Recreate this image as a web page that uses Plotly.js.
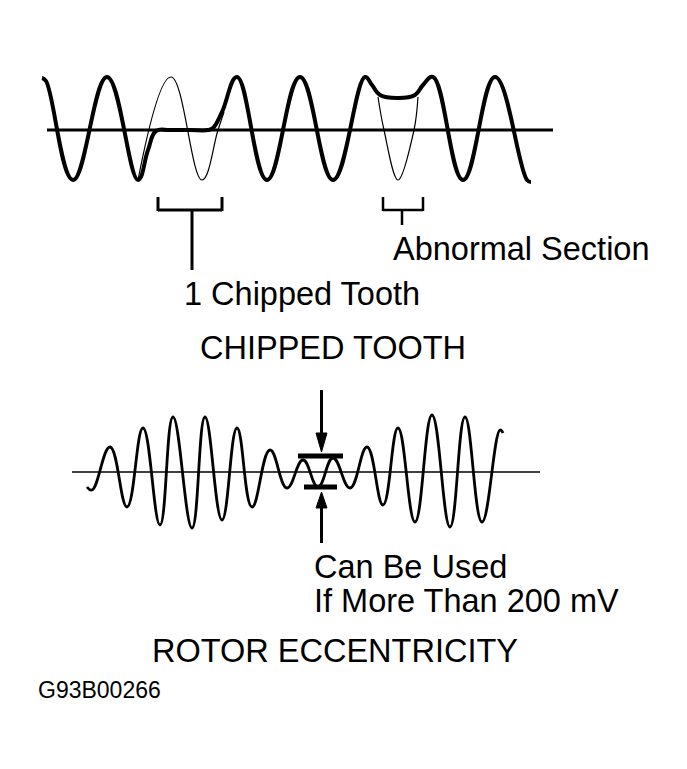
<!DOCTYPE html>
<html>
<head>
<meta charset="utf-8">
<script src="https://cdn.plot.ly/plotly-3.0.1.min.js"></script>
<style>html,body{margin:0;padding:0;background:#fff;}#chart{width:687px;height:769px;}</style>
</head>
<body>
<div id="chart"></div>
<script>
// ---- Data (x, y in picture units; y grows downward) ----
// CHIPPED TOOTH waveform: actual (thick) signal, peaks/troughs and flat parts
const topThickX = [42, 46, 73, 107, 138, 148, 156, 170, 190, 208, 213, 222, 237, 267, 300, 333, 365, 372, 380, 398, 415, 423, 433, 463, 495, 527, 531];
const topThickY = [78, 81, 180, 77, 180, 150, 131, 130, 130, 130, 128, 112, 77, 180, 77, 180, 77, 85, 95, 98, 95, 85, 77, 180, 77, 180, 182];
// normal tooth outline (thin) at the chipped tooth
const topThinAX = [138, 171, 202, 218, 224];
const topThinAY = [180, 77, 180, 130, 112];
// normal tooth outline (thin) at the abnormal section
const topThinBX = [378, 384, 398, 414, 418];
const topThinBY = [97, 130, 180, 130, 97];
// ROTOR ECCENTRICITY waveform (peaks and troughs)
const botX = [87, 92, 110, 127, 143, 160, 173, 192, 205, 222, 237, 252, 270, 287, 303, 318, 333, 350, 367, 383, 398, 415, 432, 450, 465, 482, 500, 503];
const botY = [487, 490, 447, 507, 428, 525, 417, 528, 417, 520, 428, 507, 450, 488, 460, 487, 458, 488, 447, 505, 428, 522, 415, 527, 417, 522, 430, 433];
// axis (zero) lines
const topAxisX = [47, 553];
const topAxisY = [130, 130];
const botAxisX = [72, 540];
const botAxisY = [472, 472];
// texts
const labels = ["Abnormal Section", "1 Chipped Tooth", "CHIPPED TOOTH", "Can Be Used", "If More Than 200 mV", "ROTOR ECCENTRICITY", "G93B00266"];

const FONT = "Liberation Sans, Arial, Helvetica, sans-serif";
const line = (x, y, w, s) => ({x: x, y: y, mode: 'lines', type: 'scatter', hoverinfo: 'skip',
  line: {color: '#000', width: w, shape: 'spline', smoothing: s}});
const straight = (x, y, w) => ({x: x, y: y, mode: 'lines', type: 'scatter', hoverinfo: 'skip',
  line: {color: '#000', width: w}});

const traces = [
  straight(topAxisX, topAxisY, 3),
  straight(botAxisX, botAxisY, 1.5),
  line(topThinAX, topThinAY, 1.2, 1.2),
  line(topThinBX, topThinBY, 1.2, 1),
  line(topThickX, topThickY, 4, 1.2),
  line(botX, botY, 2.8, 1.25)
];

const seg = (x0, y0, x1, y1, w) => ({type: 'line', xref: 'x', yref: 'y', x0: x0, y0: y0, x1: x1, y1: y1,
  line: {color: '#000', width: w}});
const tri = (p) => ({type: 'path', xref: 'x', yref: 'y', path: p, fillcolor: '#000', line: {color: '#000', width: 1}});

const shapes = [
  // 1 chipped tooth bracket
  seg(158, 197, 158, 211, 3), seg(158, 210, 222, 210, 3), seg(222, 197, 222, 211, 3), seg(192, 210, 192, 270, 3),
  // abnormal section bracket
  seg(383, 197, 383, 211, 2.5), seg(383, 210, 423, 210, 2.5), seg(423, 197, 423, 211, 2.5), seg(402, 210, 402, 225, 2.5),
  // amplitude marks
  seg(298, 456, 343, 456, 5), seg(304, 487, 337, 487, 5),
  seg(321.5, 390, 321.5, 436, 3), tri('M 316,433 L 327,433 L 321.5,452 Z'),
  seg(321.5, 505, 321.5, 543, 3), tri('M 316,508 L 327,508 L 321.5,492 Z')
];

const ann = (t, x, y, xa, size) => ({text: t, x: x, y: y, xref: 'x', yref: 'y', xanchor: xa, yanchor: 'middle',
  showarrow: false, font: {family: FONT, size: size, color: '#000'}});
const annotations = [
  ann(labels[0], 391, 249, 'left', 32.5),
  ann(labels[1], 182, 294, 'left', 32.5),
  ann(labels[2], 333, 348, 'center', 32.5),
  ann(labels[3], 312, 567, 'left', 32.5),
  ann(labels[4], 312, 601, 'left', 32.5),
  ann(labels[5], 335, 651, 'center', 32.5),
  ann(labels[6], 36, 690, 'left', 23)
];

const layout = {
  width: 687, height: 769,
  margin: {l: 0, r: 0, t: 0, b: 0},
  paper_bgcolor: '#fff', plot_bgcolor: '#fff',
  showlegend: false,
  xaxis: {range: [0, 687], visible: false, fixedrange: true},
  yaxis: {range: [769, 0], visible: false, fixedrange: true},
  shapes: shapes,
  annotations: annotations
};
Plotly.newPlot('chart', traces, layout, {staticPlot: true, displayModeBar: false});
</script>
</body>
</html>
